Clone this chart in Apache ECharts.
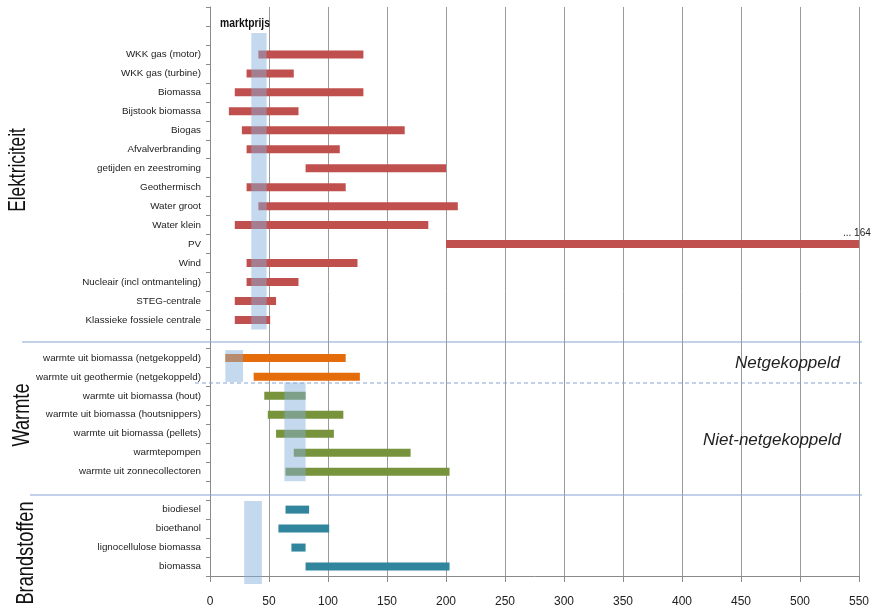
<!DOCTYPE html>
<html><head><meta charset="utf-8">
<script src="https://cdn.jsdelivr.net/npm/echarts@6/dist/echarts.min.js"></script>
<style>html,body{margin:0;padding:0;background:#fff}#c{width:872px;height:609px}</style>
</head><body><div id="c"></div>
<script>
// ---- data ----
const xTickLabels = ['0','50','100','150','200','250','300','350','400','450','500','550'];
const elecCats = ['WKK gas (motor)','WKK gas (turbine)','Biomassa','Bijstook biomassa','Biogas','Afvalverbranding','getijden en zeestroming','Geothermisch','Water groot','Water klein','PV','Wind','Nucleair (incl ontmanteling)','STEG-centrale','Klassieke fossiele centrale'];
const elecLow  = [41, 31, 21, 16, 27, 31, 81, 31, 41, 21, 200, 31, 31, 21, 21];
const elecHigh = [130, 71, 130, 75, 165, 110, 200, 115, 210, 185, 550, 125, 75, 56, 51];
const heatNetCats = ['warmte uit biomassa (netgekoppeld)','warmte uit geothermie (netgekoppeld)'];
const heatNetLow  = [13, 37];
const heatNetHigh = [115, 127];
const heatCats = ['warmte uit biomassa (hout)','warmte uit biomassa (houtsnippers)','warmte uit biomassa (pellets)','warmtepompen','warmte uit zonnecollectoren'];
const heatLow  = [46, 49, 56, 71, 64];
const heatHigh = [81, 113, 105, 170, 203];
const fuelCats = ['biodiesel','bioethanol','lignocellulose biomassa','biomassa'];
const fuelLow  = [64, 58, 69, 81];
const fuelHigh = [84, 101, 81, 203];
// marktprijs ranges: elektriciteit, warmte netgekoppeld, warmte niet-netgekoppeld, brandstoffen
const marketLow  = [35, 13, 63, 29];
const marketHigh = [48, 28, 81, 44];

// ---- layout / style ----
const bandRows = [[1.37, 17.0], [18.09, 19.77], [19.8, 25.0], [26.04, 30.42]]; // in row units from axis top
const FONT = "'Liberation Sans',Arial,sans-serif";
const groups = [
  {cats: elecCats, low: elecLow, high: elecHigh, color: '#C0504D'},
  {cats: heatNetCats, low: heatNetLow, high: heatNetHigh, color: '#E46C0A'},
  {cats: heatCats, low: heatLow, high: heatHigh, color: '#77933C'},
  {cats: fuelCats, low: fuelLow, high: fuelHigh, color: '#31859C'}
];
const allCats = ['_a','_b'].concat(elecCats, ['_c'], heatNetCats, heatCats, ['_d'], fuelCats);

const baseData = allCats.map(() => '-');
const lenData = allCats.map(() => '-');
groups.forEach(g => {
  g.cats.forEach((c, i) => {
    const idx = allCats.indexOf(c);
    baseData[idx] = g.low[i];
    lenData[idx] = {value: g.high[i] - g.low[i], itemStyle: {color: g.color}};
  });
});

const chart = echarts.init(document.getElementById('c'), null, {renderer: 'canvas'});
chart.setOption({
  animation: false,
  backgroundColor: '#fff',
  grid: {left: 210, right: 10, top: 7, bottom: 33, containLabel: false},
  xAxis: {
    type: 'value', min: 0, max: 550, interval: 50,
    axisLine: {show: true, lineStyle: {color: '#8a8a8a'}},
    axisTick: {show: true, length: 6, lineStyle: {color: '#8a8a8a'}},
    splitLine: {show: true, lineStyle: {color: '#9a9a9a', width: 1}},
    axisLabel: {fontSize: 12, color: '#222', margin: 20, fontFamily: FONT,
      formatter: (v) => xTickLabels[Math.round(v / 50)] || ''}
  },
  yAxis: {
    type: 'category', inverse: true, data: allCats,
    axisLine: {show: true, lineStyle: {color: '#8a8a8a'}},
    axisTick: {show: true, length: 4, lineStyle: {color: '#8a8a8a'}},
    axisLabel: {fontSize: 9.8, color: '#222', margin: 9, fontFamily: FONT, interval: 0,
      formatter: (v) => v.charAt(0) === '_' ? '' : v}
  },
  series: [
    {type: 'bar', stack: 'r', data: baseData, barWidth: 8, silent: true,
     itemStyle: {color: 'transparent'}},
    {type: 'bar', stack: 'r', data: lenData, barWidth: 8},
    {type: 'custom', z: 5, silent: true,
     data: marketLow.map((l, i) => [l, marketHigh[i], i]),
     encode: {x: [0, 1], y: 2},
     renderItem: function (params, api) {
       const i = api.value(2);
       const r = bandRows[i];
       const bw = api.size([0, 1])[1];
       const top0 = api.coord([0, 0])[1] - bw / 2;
       const x0 = api.coord([api.value(0), 0])[0];
       const x1 = api.coord([api.value(1), 0])[0];
       return {type: 'rect',
         shape: {x: x0, y: top0 + r[0] * bw, width: x1 - x0, height: (r[1] - r[0]) * bw},
         style: {fill: 'rgba(134,176,220,0.48)'}};
     }}
  ],
  graphic: [
    {type: 'line', shape: {x1: 22, y1: 342, x2: 862, y2: 342}, style: {stroke: '#86a4d4', lineWidth: 1}, z: 10},
    {type: 'line', shape: {x1: 30, y1: 495, x2: 862, y2: 495}, style: {stroke: '#86a4d4', lineWidth: 1}, z: 10},
    {type: 'line', shape: {x1: 195, y1: 383, x2: 862, y2: 383}, style: {stroke: '#86a4d4', lineWidth: 1, lineDash: [4, 3]}, z: 10},
    {type: 'text', x: 18, y: 170, rotation: Math.PI / 2, scaleX: 0.72, z: 10,
     style: {text: 'Elektriciteit', font: '24px ' + FONT, fill: '#111', textAlign: 'center', textVerticalAlign: 'middle'}},
    {type: 'text', x: 22, y: 415, rotation: Math.PI / 2, scaleX: 0.76, z: 10,
     style: {text: 'Warmte', font: '24px ' + FONT, fill: '#111', textAlign: 'center', textVerticalAlign: 'middle'}},
    {type: 'text', x: 26, y: 553, rotation: Math.PI / 2, scaleX: 0.76, z: 10,
     style: {text: 'Brandstoffen', font: '24px ' + FONT, fill: '#111', textAlign: 'center', textVerticalAlign: 'middle'}},
    {type: 'text', x: 245, y: 24, scaleX: 0.86, z: 10,
     style: {text: 'marktprijs', font: 'bold 12px ' + FONT, fill: '#111', textAlign: 'center', textVerticalAlign: 'middle'}},
    {type: 'text', x: 840, y: 363, z: 10,
     style: {text: 'Netgekoppeld', font: 'italic 17px ' + FONT, fill: '#222', textAlign: 'right', textVerticalAlign: 'middle'}},
    {type: 'text', x: 841, y: 440, z: 10,
     style: {text: 'Niet-netgekoppeld', font: 'italic 17px ' + FONT, fill: '#222', textAlign: 'right', textVerticalAlign: 'middle'}},
    {type: 'text', x: 843, y: 233, z: 10,
     style: {text: '... 164', font: '10px ' + FONT, fill: '#222', textAlign: 'left', textVerticalAlign: 'middle'}}
  ]
});
</script>
</body></html>
